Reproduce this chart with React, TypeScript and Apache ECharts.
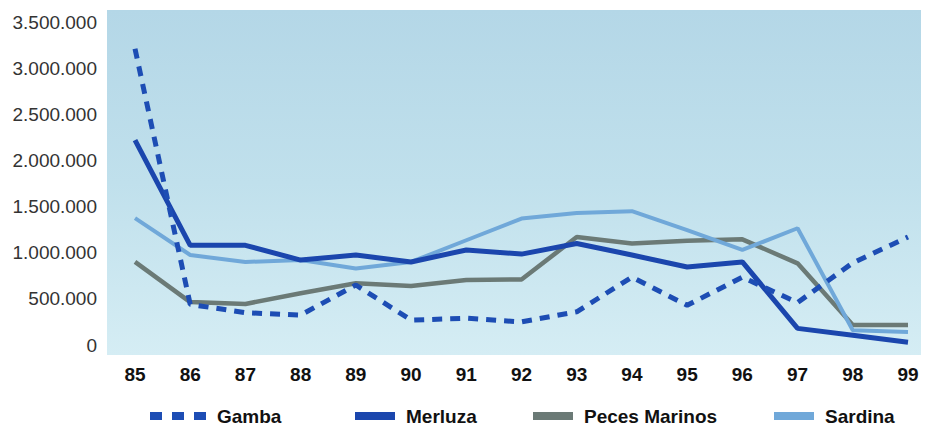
import React, { useEffect, useRef } from "react";
import * as echarts from "echarts";

const years = ["85", "86", "87", "88", "89", "90", "91", "92", "93", "94", "95", "96", "97", "98", "99"];
const gamba = [3210000, 440000, 350000, 325000, 650000, 270000, 290000, 250000, 360000, 735000, 430000, 735000, 460000, 890000, 1170000];
const merluza = [2220000, 1080000, 1080000, 920000, 975000, 900000, 1030000, 985000, 1100000, 975000, 845000, 900000, 180000, 105000, 30000];
const peces = [900000, 465000, 445000, 560000, 670000, 640000, 705000, 710000, 1170000, 1100000, 1130000, 1145000, 885000, 216000, 216000];
const sardina = [1375000, 975000, 900000, 920000, 830000, 900000, 1135000, 1370000, 1430000, 1450000, 1245000, 1030000, 1265000, 160000, 140000];
const yTicks = [0, 500000, 1000000, 1500000, 2000000, 2500000, 3000000, 3500000];

const C_GAMBA = "#1d4db4";
const C_MERLUZA = "#1b46ad";
const C_PECES = "#6b7a76";
const C_SARDINA = "#70a8d9";

const fmt = (v: number) => String(v).replace(/\B(?=(\d{3})+(?!\d))/g, ".");

export default function App() {
  const ref = useRef<HTMLDivElement>(null);
  useEffect(() => {
    if (!ref.current) return;
    const chart = echarts.init(ref.current, undefined, { renderer: "svg" });
    const legendText = { fontFamily: "Liberation Sans, Arial, sans-serif", fontWeight: "bold" as const, fontSize: 19, color: "#111", lineHeight: 20, padding: [0, 0, 0, 6] };
    const mkLegend = (name: string, left: number, icon: string, w: number, color: string) => ({
      data: [{ name, icon, itemStyle: { color } }],
      left,
      top: 406,
      padding: 0,
      itemWidth: w,
      itemHeight: 8,
      textStyle: legendText,
      selectedMode: false,
    });
    chart.setOption({
      animation: false,
      backgroundColor: "#ffffff",
      graphic: [
        {
          type: "rect",
          z: -10,
          shape: { x: 107, y: 10, width: 814, height: 345 },
          style: {
            fill: new echarts.graphic.LinearGradient(0, 0, 0, 1, [
              { offset: 0, color: "#b4d7e7" },
              { offset: 0.5, color: "#c0e0ec" },
              { offset: 1, color: "#d5edf4" },
            ]),
          },
        },
      ],
      grid: { left: 135, right: 21, top: 22, bottom: 83 },
      legend: [
        mkLegend("Gamba", 150, "path://M0,0h12v8h-12z M22,0h12v8h-12z M44,0h12v8h-12z", 56, C_GAMBA),
        mkLegend("Merluza", 355, "rect", 40, C_MERLUZA),
        mkLegend("Peces Marinos", 533, "rect", 40, C_PECES),
        mkLegend("Sardina", 774, "rect", 40, C_SARDINA),
      ],
      xAxis: {
        type: "category",
        data: years,
        boundaryGap: false,
        axisLine: { show: false },
        axisTick: { show: false },
        axisLabel: { margin: 20, fontSize: 19, fontWeight: "bold", color: "#111", fontFamily: "Liberation Sans, Arial, sans-serif" },
        splitLine: { show: false },
      },
      yAxis: {
        type: "value",
        min: 0,
        max: yTicks[yTicks.length - 1],
        interval: 500000,
        axisLine: { show: false },
        axisTick: { show: false },
        splitLine: { show: false },
        axisLabel: { margin: 38, fontSize: 19, color: "#333", fontFamily: "Liberation Sans, Arial, sans-serif", formatter: (v: number) => fmt(v) },
      },
      series: [
        { name: "Peces Marinos", type: "line", data: peces, symbol: "none", lineStyle: { color: C_PECES, width: 4.5 }, itemStyle: { color: C_PECES }, z: 2 },
        { name: "Sardina", type: "line", data: sardina, symbol: "none", lineStyle: { color: C_SARDINA, width: 4 }, itemStyle: { color: C_SARDINA }, z: 3 },
        { name: "Merluza", type: "line", data: merluza, symbol: "none", lineStyle: { color: C_MERLUZA, width: 5 }, itemStyle: { color: C_MERLUZA }, z: 4 },
        { name: "Gamba", type: "line", data: gamba, symbol: "none", lineStyle: { color: C_GAMBA, width: 5, type: [10, 8] }, itemStyle: { color: C_GAMBA }, z: 5 },
      ],
    });
    return () => chart.dispose();
  }, []);
  return <div ref={ref} style={{ width: 929, height: 428, position: "absolute", left: 0, top: 0 }} />;
}
